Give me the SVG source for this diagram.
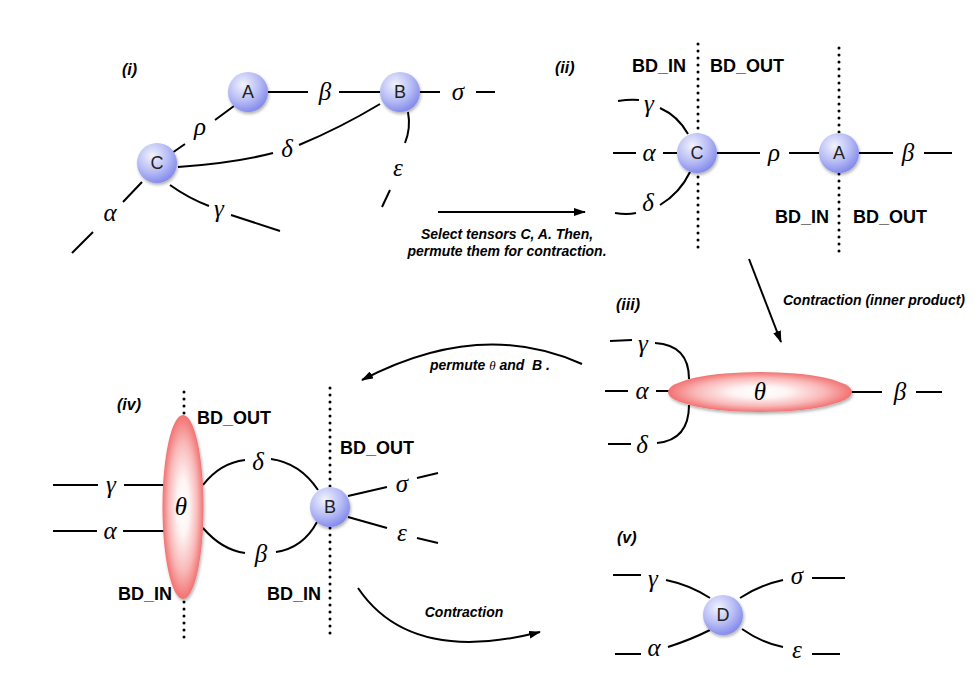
<svg xmlns="http://www.w3.org/2000/svg" width="980" height="690" viewBox="0 0 980 690">
<defs>
<radialGradient id="gBlue" cx="0.38" cy="0.32" r="0.75">
<stop offset="0" stop-color="#f2f3fd"/>
<stop offset="0.55" stop-color="#b6bbf4"/>
<stop offset="1" stop-color="#7a82ea"/>
</radialGradient>
<radialGradient id="gRed" cx="0.5" cy="0.5" r="0.5">
<stop offset="0" stop-color="#ffffff"/>
<stop offset="0.3" stop-color="#fef4f4"/>
<stop offset="0.7" stop-color="#f9b8b8"/>
<stop offset="1" stop-color="#f27272"/>
</radialGradient>
<filter id="sh" x="-30%" y="-30%" width="160%" height="160%">
<feDropShadow dx="1" dy="2" stdDeviation="1.5" flood-color="#000" flood-opacity="0.3"/>
</filter>
<marker id="ah" viewBox="0 0 12 8" refX="11" refY="4" markerWidth="12" markerHeight="8" markerUnits="userSpaceOnUse" orient="auto">
<path d="M0,0 L12,4 L0,8 z" fill="#000"/>
</marker>
<style>
.e{fill:none;stroke:#000;stroke-width:2}
.dot{fill:none;stroke:#000;stroke-width:3;stroke-linecap:round;stroke-dasharray:0 7}
.g{font-family:"Liberation Serif","Times New Roman",serif;font-style:italic;font-size:25px;text-anchor:middle;fill:#000}
.bd{font-family:"Liberation Sans",Arial,sans-serif;font-weight:bold;font-size:18px;fill:#000}
.pl{font-family:"Liberation Sans",Arial,sans-serif;font-weight:bold;font-style:italic;font-size:16px;fill:#000}
.al{font-family:"Liberation Sans",Arial,sans-serif;font-weight:bold;font-style:italic;font-size:14px;fill:#000;text-anchor:middle}
.nb{fill:url(#gBlue);filter:url(#sh)}
.nr{fill:url(#gRed);filter:url(#sh)}
.nt{font-family:"Liberation Sans",Arial,sans-serif;font-size:18px;fill:#222;text-anchor:middle}
</style>
</defs>
<rect width="980" height="690" fill="#fff"/>

<g id="connectors">
<!-- panel i -->
<path class="e" d="M268,92 L308,92 M339,92 L380,92"/>
<path class="e" d="M420,92 L440,92 M476,92 L495,92"/>
<path class="e" d="M234,106 L215,120 M185,144 L172,153"/>
<path class="e" d="M178,167 Q235,163 273,153 M299,145 Q340,128 380,104"/>
<path class="e" d="M408,112 Q411,128 405,143 M390,190 L382,207"/>
<path class="e" d="M142,182 L123,202 M93,232 L72,253"/>
<path class="e" d="M170,185 Q188,198 209,206 M231,215 L280,231"/>
<!-- panel ii -->
<path class="e" d="M613,153 L636,153 M663,153 L677,153"/>
<path class="e" d="M618,101 Q630,99 639,100 M660,108 Q678,116 688,134"/>
<path class="e" d="M615,213 Q627,215 636,213 M660,205 Q680,193 690,172"/>
<path class="e" d="M717,153 L760,153 M789,153 L819,153"/>
<path class="e" d="M859,153 L893,153 M924,153 L952,153"/>
<path class="dot" d="M698,44 L698,252"/>
<path class="dot" d="M839,48 L839,255"/>
<!-- panel iii -->
<path class="e" d="M605,391 L628,391 M656,391 L670,391"/>
<path class="e" d="M610,341 L632,340 M655,343 Q689,345 689,379"/>
<path class="e" d="M608,444 L631,444 M689,405 Q689,440 657,443"/>
<path class="e" d="M850,392 L882,392 M916,392 L942,392"/>
<!-- panel iv -->
<path class="dot" d="M184,392 L184,640"/>
<path class="dot" d="M330,388 L330,636"/>
<path class="e" d="M53,485 L98,485 M124,485 L164,485"/>
<path class="e" d="M53,531 L97,531 M123,531 L164,531"/>
<path class="e" d="M203,485 Q220,463 245,460 M271,459 Q300,463 318,490"/>
<path class="e" d="M203,528 Q222,550 245,553 M276,552 Q303,548 317,522"/>
<path class="e" d="M348,496 L387,487 M417,478 L438,473"/>
<path class="e" d="M348,517 L387,528 M417,538 L438,543"/>
<!-- panel v -->
<path class="e" d="M613,575 L641,575 M666,580 Q690,585 710,598"/>
<path class="e" d="M615,654 L641,654 M668,647 Q690,640 710,630"/>
<path class="e" d="M740,598 Q760,585 783,580 M812,578 L845,578"/>
<path class="e" d="M742,629 Q762,643 783,647 M812,654 L840,654"/>
<!-- transition arrows -->
<path class="e" d="M438,212 L585,212" marker-end="url(#ah)"/>
<path class="e" d="M749,259 L781,342" marker-end="url(#ah)"/>
<path class="e" d="M582,364 Q480,318 362,380" marker-end="url(#ah)"/>
<path class="e" d="M358,588 Q410,665 540,632" marker-end="url(#ah)"/>
</g>

<g id="greek">
<text class="g" x="325" y="100">β</text>
<text class="g" x="458" y="100">σ</text>
<text class="g" x="200" y="135">ρ</text>
<text class="g" x="287" y="157">δ</text>
<text class="g" x="398" y="176">ε</text>
<text class="g" x="110" y="221">α</text>
<text class="g" x="219" y="217">γ</text>

<text class="g" x="649" y="161">α</text>
<text class="g" x="649" y="112">γ</text>
<text class="g" x="648" y="211">δ</text>
<text class="g" x="774" y="161">ρ</text>
<text class="g" x="908" y="161">β</text>

<text class="g" x="642" y="399">α</text>
<text class="g" x="643" y="352">γ</text>
<text class="g" x="642" y="453">δ</text>
<text class="g" x="900" y="400">β</text>

<text class="g" x="111" y="493">γ</text>
<text class="g" x="110" y="539">α</text>
<text class="g" x="258" y="470">δ</text>
<text class="g" x="261" y="562">β</text>
<text class="g" x="402" y="492">σ</text>
<text class="g" x="402" y="541">ε</text>

<text class="g" x="653" y="587">γ</text>
<text class="g" x="654" y="656">α</text>
<text class="g" x="797" y="584">σ</text>
<text class="g" x="797" y="658">ε</text>
</g>

<g id="labels">
<text class="pl" x="122" y="75">(i)</text>
<text class="pl" x="555" y="73">(ii)</text>
<text class="pl" x="616" y="310">(iii)</text>
<text class="pl" x="117" y="410">(iv)</text>
<text class="pl" x="617" y="543">(v)</text>

<text class="bd" x="632" y="72">BD_IN</text>
<text class="bd" x="710" y="72">BD_OUT</text>
<text class="bd" x="775" y="223">BD_IN</text>
<text class="bd" x="853" y="223">BD_OUT</text>
<text class="bd" x="197" y="424">BD_OUT</text>
<text class="bd" x="118" y="600">BD_IN</text>
<text class="bd" x="340" y="454">BD_OUT</text>
<text class="bd" x="267" y="600">BD_IN</text>

<text class="al" x="507" y="239">Select tensors C, A. Then,</text>
<text class="al" x="507" y="256">permute them for contraction.</text>
<text class="al" x="874" y="305">Contraction (inner product)</text>
<text class="al" x="490" y="370" xml:space="preserve">permute <tspan font-family="Liberation Serif, serif" font-weight="normal" font-size="13">θ</tspan> and  B .</text>
<text class="al" x="464" y="617">Contraction</text>
</g>

<g id="node-A-i"><circle class="nb" cx="248" cy="92" r="20"/><text class="nt" x="248" y="98">A</text></g>
<g id="node-B-i"><circle class="nb" cx="400" cy="92" r="20"/><text class="nt" x="400" y="98">B</text></g>
<g id="node-C-i"><circle class="nb" cx="157" cy="163" r="20"/><text class="nt" x="157" y="169">C</text></g>

<g id="node-C-ii"><circle class="nb" cx="697" cy="153" r="20"/><text class="nt" x="697" y="159">C</text></g>
<g id="node-A-ii"><circle class="nb" cx="839" cy="153" r="20"/><text class="nt" x="839" y="159">A</text></g>

<g id="node-theta-iii"><ellipse class="nr" cx="760" cy="392" rx="92" ry="20"/><text class="g" x="760" y="400">θ</text></g>

<g id="node-theta-iv"><ellipse class="nr" cx="183" cy="507" rx="20.5" ry="92"/><text class="g" x="181" y="515">θ</text></g>
<g id="node-B-iv"><circle class="nb" cx="330" cy="507" r="20"/><text class="nt" x="330" y="513">B</text></g>

<g id="node-D-v"><circle class="nb" cx="723" cy="615" r="20"/><text class="nt" x="723" y="621">D</text></g>
</svg>
